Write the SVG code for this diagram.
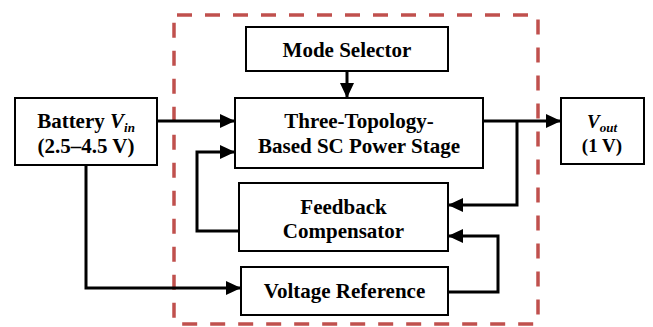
<svg xmlns="http://www.w3.org/2000/svg" width="653" height="327" viewBox="0 0 653 327">
<style>
.box{fill:#fff;stroke:#000;stroke-width:2}
.t{font-family:"Liberation Serif","Times New Roman",serif;font-weight:bold;font-size:21px;fill:#000;text-anchor:middle}
.s{font-size:19px}
.i{font-style:italic}
.sub{font-size:13px;font-style:italic}
.c{fill:none;stroke:#000;stroke-width:3}
.dash{fill:none;stroke:#c0504d;stroke-width:3.5;stroke-dasharray:15 13}
</style>
<defs>
<marker id="ah" markerWidth="16" markerHeight="16" refX="15" refY="7" orient="auto" markerUnits="userSpaceOnUse"><path d="M0,0 L15,7 L0,14 z" fill="#000"/></marker>
</defs>
<rect width="653" height="327" fill="#fff"/>
<rect id="boundary" class="dash" x="174" y="15" width="364" height="309" rx="3"/>
<g id="connectors">
<path class="c" d="M157,121 H235" marker-end="url(#ah)"/>
<path class="c" d="M347,71 V98" marker-end="url(#ah)"/>
<path class="c" d="M483,121 H561" marker-end="url(#ah)"/>
<path class="c" d="M517,121 V205 H448" marker-end="url(#ah)"/>
<path class="c" d="M239,231 H197 V152 H235" marker-end="url(#ah)"/>
<path class="c" d="M86,165 V288 H241" marker-end="url(#ah)"/>
<path class="c" d="M448,292 H498 V236 H448" marker-end="url(#ah)"/>
</g>
<g id="battery">
<rect class="box" x="15" y="98" width="142" height="67"/>
<text class="t" x="86" y="128">Battery <tspan class="i">V</tspan><tspan class="sub" dy="4">in</tspan></text>
<text class="t" x="86" y="153">(2.5–4.5 V)</text>
</g>
<g id="mode-selector">
<rect class="box" x="246" y="27" width="202" height="44"/>
<text class="t" x="347" y="57">Mode Selector</text>
</g>
<g id="power-stage">
<rect class="box" x="235" y="98" width="248" height="70"/>
<text class="t" x="359" y="128">Three-Topology-</text>
<text class="t" x="359" y="153">Based SC Power Stage</text>
</g>
<g id="feedback">
<rect class="box" x="239" y="183" width="209" height="68"/>
<text class="t" x="343.5" y="214">Feedback</text>
<text class="t" x="343.5" y="238">Compensator</text>
</g>
<g id="vref">
<rect class="box" x="241" y="267" width="207" height="48"/>
<text class="t" x="344.5" y="298">Voltage Reference</text>
</g>
<g id="vout">
<rect class="box" x="561" y="98" width="83" height="66"/>
<text class="t s" x="602" y="128"><tspan class="i">V</tspan><tspan class="sub" dy="4">out</tspan></text>
<text class="t s" x="602" y="152">(1 V)</text>
</g>
</svg>
